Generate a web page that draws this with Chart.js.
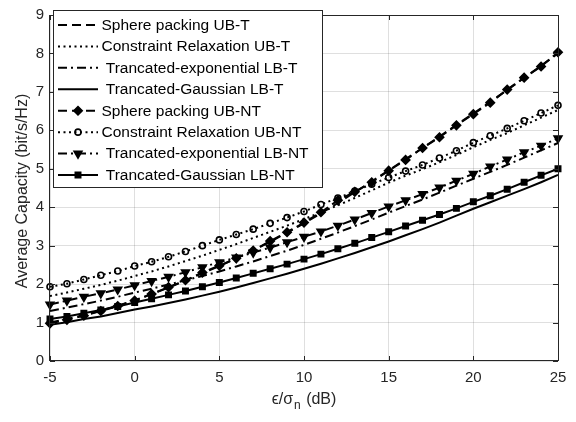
<!DOCTYPE html>
<html>
<head>
<meta charset="utf-8">
<script src="https://cdn.jsdelivr.net/npm/chart.js@4/dist/chart.umd.min.js"></script>
<style>
  html, body { margin: 0; padding: 0; background: #fff; }
  canvas { display: block; }
</style>
</head>
<body>
<canvas id="cap" width="576" height="422"></canvas>
<script>
// Normalised threshold epsilon/sigma_n in dB
const snrDb = [-5, -4, -3, -2, -1, 0, 1, 2, 3, 4, 5, 6, 7, 8, 9, 10,
               11, 12, 13, 14, 15, 16, 17, 18, 19, 20, 21, 22, 23, 24, 25];

// Average capacity (bit/s/Hz), "T" curves
const spherePackingT = [1.00, 1.09, 1.19, 1.31, 1.44, 1.58, 1.74, 1.91, 2.09, 2.28, 2.47,
  2.67, 2.88, 3.10, 3.34, 3.58, 3.84, 4.11, 4.39, 4.67, 4.96,
  5.25, 5.54, 5.84, 6.14, 6.44, 6.74, 7.05, 7.36, 7.68, 8.00];
const constraintRelaxT = [1.69, 1.78, 1.88, 1.98, 2.09, 2.21, 2.33, 2.46, 2.60, 2.74, 2.89,
  3.04, 3.20, 3.36, 3.52, 3.69, 3.87, 4.05, 4.24, 4.44, 4.64,
  4.82, 4.99, 5.17, 5.36, 5.56, 5.75, 5.93, 6.13, 6.33, 6.53];
const truncExpT = [1.30, 1.39, 1.48, 1.57, 1.67, 1.78, 1.88, 1.99, 2.10, 2.21, 2.33,
  2.46, 2.59, 2.73, 2.87, 3.02, 3.18, 3.34, 3.51, 3.68, 3.86,
  4.03, 4.20, 4.38, 4.56, 4.74, 4.92, 5.10, 5.29, 5.48, 5.67];
const truncGaussT = [0.94, 1.01, 1.09, 1.16, 1.25, 1.34, 1.42, 1.51, 1.60, 1.70, 1.80,
  1.91, 2.03, 2.15, 2.27, 2.40, 2.53, 2.67, 2.81, 2.96, 3.11,
  3.27, 3.43, 3.60, 3.78, 3.96, 4.13, 4.30, 4.47, 4.65, 4.84];

// Average capacity (bit/s/Hz), "NT" curves
const spherePackingNT = [0.98, 1.07, 1.18, 1.30, 1.43, 1.57, 1.74, 1.92, 2.10, 2.30, 2.48,
  2.67, 2.87, 3.12, 3.35, 3.60, 3.87, 4.18, 4.40, 4.65, 4.95,
  5.23, 5.54, 5.82, 6.13, 6.42, 6.72, 7.06, 7.37, 7.66, 8.03];
const constraintRelaxNT = [1.93, 2.01, 2.12, 2.23, 2.34, 2.47, 2.58, 2.71, 2.85, 3.00, 3.15,
  3.29, 3.43, 3.58, 3.73, 3.89, 4.07, 4.24, 4.42, 4.60, 4.77,
  4.94, 5.10, 5.28, 5.47, 5.68, 5.86, 6.05, 6.25, 6.45, 6.65];
const truncExpNT = [1.47, 1.57, 1.67, 1.76, 1.86, 1.97, 2.08, 2.19, 2.31, 2.44, 2.57,
  2.69, 2.82, 2.95, 3.09, 3.23, 3.37, 3.52, 3.68, 3.85, 4.02,
  4.18, 4.34, 4.51, 4.69, 4.87, 5.06, 5.24, 5.43, 5.60, 5.79];
const truncGaussNT = [1.09, 1.16, 1.24, 1.33, 1.42, 1.52, 1.62, 1.72, 1.82, 1.93, 2.04,
  2.16, 2.28, 2.40, 2.52, 2.65, 2.78, 2.92, 3.06, 3.21, 3.36,
  3.51, 3.66, 3.81, 3.97, 4.14, 4.30, 4.47, 4.65, 4.83, 5.00];

const xTicks = [-5, 0, 5, 10, 15, 20, 25];
const yTicks = [0, 1, 2, 3, 4, 5, 6, 7, 8, 9];

const seriesLabels = [
  'Sphere packing UB-T',
  'Constraint Relaxation UB-T',
  ' Trancated-exponential LB-T',
  ' Trancated-Gaussian LB-T',
  'Sphere packing UB-NT',
  'Constraint Relaxation UB-NT',
  ' Trancated-exponential LB-NT',
  ' Trancated-Gaussian LB-NT'
];
const seriesValues = [spherePackingT, constraintRelaxT, truncExpT, truncGaussT,
                      spherePackingNT, constraintRelaxNT, truncExpNT, truncGaussNT];

const INK = '#000000';
const AXIS = '#262626';
const GRID = 'rgba(38,38,38,0.15)';
const FONT = '"Liberation Sans", Arial, Helvetica, sans-serif';

const DASH = [9, 5];
const DOT = [2, 3.5];
const DASHDOT = [9, 4, 2, 4];
const SOLID = [];

const lineStyles = [DASH, DOT, DASHDOT, SOLID, DASH, DOT, DASHDOT, SOLID];
const markers = [
  null, null, null, null,
  { pointStyle: 'rectRot', radius: 4.2, rotation: 0, fill: INK },
  { pointStyle: 'circle', radius: 3.0, rotation: 0, fill: 'rgba(0,0,0,0)' },
  { pointStyle: 'triangle', radius: 4.5, rotation: 180, fill: INK },
  { pointStyle: 'rect', radius: 3.8, rotation: 0, fill: INK }
];

const datasets = seriesValues.map((vals, i) => {
  const m = markers[i];
  return {
    label: seriesLabels[i],
    data: snrDb.map((x, k) => ({ x: x, y: vals[k] })),
    borderColor: INK,
    borderWidth: 2,
    borderDash: lineStyles[i],
    fill: false,
    tension: 0,
    clip: false,
    pointStyle: m ? m.pointStyle : 'circle',
    pointRadius: m ? m.radius : 0,
    pointRotation: m ? m.rotation : 0,
    pointBackgroundColor: m ? m.fill : INK,
    pointBorderColor: INK,
    pointBorderWidth: 1.6,
    pointHoverRadius: m ? m.radius : 0
  };
});

// Box around the axes, inward tick marks, legend and axis titles
const decorations = {
  id: 'decorations',
  afterDatasetsDraw(chart) {
    const c = chart.ctx, a = chart.chartArea;
    const xs = chart.scales.x, ys = chart.scales.y;
    c.save();
    c.strokeStyle = AXIS;
    c.lineWidth = 1;
    c.setLineDash([]);
    c.strokeRect(Math.round(a.left) - 0.5, Math.round(a.top) + 0.5,
                 Math.round(a.right - a.left) + 1, Math.round(a.bottom - a.top) - 1);
    const tl = 5;
    c.beginPath();
    xTicks.forEach(v => {
      const px = Math.round(xs.getPixelForValue(v)) + 0.5;
      c.moveTo(px, a.bottom); c.lineTo(px, a.bottom - tl);
      c.moveTo(px, a.top); c.lineTo(px, a.top + tl);
    });
    yTicks.forEach(v => {
      const py = Math.round(ys.getPixelForValue(v)) + 0.5;
      c.moveTo(a.left, py); c.lineTo(a.left + tl, py);
      c.moveTo(a.right, py); c.lineTo(a.right - tl, py);
    });
    c.stroke();
    c.restore();
  },
  afterDraw(chart) {
    const c = chart.ctx, a = chart.chartArea;
    c.save();

    // legend
    const box = { left: 53.5, top: 10.5, right: 322.5, bottom: 187.5 };
    c.fillStyle = '#ffffff';
    c.fillRect(box.left, box.top, box.right - box.left, box.bottom - box.top);
    c.strokeStyle = AXIS;
    c.lineWidth = 1;
    c.setLineDash([]);
    c.strokeRect(box.left, box.top, box.right - box.left, box.bottom - box.top);

    const rowTop = 25, rowStep = 21.43;
    const x0 = 58, x1 = 98, textX = 101.5;
    c.font = '15.5px ' + FONT;
    c.textBaseline = 'middle';
    c.textAlign = 'left';
    chart.data.datasets.forEach((ds, i) => {
      const y = rowTop + i * rowStep;
      c.strokeStyle = INK;
      c.lineWidth = 2;
      c.setLineDash(ds.borderDash);
      c.beginPath();
      c.moveTo(x0, y); c.lineTo(x1, y);
      c.stroke();
      c.setLineDash([]);
      if (ds.pointRadius > 0) {
        c.fillStyle = ds.pointBackgroundColor;
        c.strokeStyle = INK;
        c.lineWidth = ds.pointBorderWidth;
        Chart.helpers.drawPoint(c, {
          pointStyle: ds.pointStyle, radius: ds.pointRadius,
          rotation: ds.pointRotation, borderWidth: ds.pointBorderWidth
        }, (x0 + x1) / 2, y);
      }
      c.fillStyle = INK;
      c.fillText(ds.label, textX, y + 0.5);
    });

    // axis titles
    c.fillStyle = AXIS;
    c.textBaseline = 'alphabetic';
    const cx = (a.left + a.right) / 2;
    const big = '16px ' + FONT, small = '12px ' + FONT;
    const part1 = '\u03F5/\u03C3', part2 = 'n', part3 = ' (dB)';
    c.font = big;
    const w1 = c.measureText(part1).width, w3 = c.measureText(part3).width;
    c.font = small;
    const w2 = c.measureText(part2).width;
    let tx = cx - (w1 + w2 + 2 + w3) / 2;
    const base = 404;
    c.font = big; c.fillText(part1, tx, base); tx += w1 + 1;
    c.font = small; c.fillText(part2, tx, base + 5); tx += w2 + 1;
    c.font = big; c.fillText(part3, tx, base);

    c.translate(27, (a.top + a.bottom) / 2 + 3);
    c.rotate(-Math.PI / 2);
    c.textAlign = 'center';
    c.font = big;
    c.fillText('Average Capacity (bit/s/Hz)', 0, 0);
    c.restore();
  }
};

new Chart(document.getElementById('cap'), {
  type: 'line',
  data: { datasets: datasets },
  options: {
    responsive: false,
    animation: false,
    devicePixelRatio: 1,
    layout: { padding: { left: 0, top: 7, right: 18, bottom: 0 } },
    plugins: { legend: { display: false }, tooltip: { enabled: false } },
    scales: {
      x: {
        type: 'linear',
        min: -5, max: 25,
        afterBuildTicks: s => { s.ticks = xTicks.map(v => ({ value: v })); },
        afterFit: s => { s.height = 61; },
        ticks: { color: AXIS, font: { family: FONT, size: 15 }, padding: 8, maxRotation: 0 },
        grid: { color: GRID, lineWidth: 1, drawTicks: false },
        border: { display: false }
      },
      y: {
        type: 'linear',
        min: 0, max: 9,
        afterBuildTicks: s => { s.ticks = yTicks.map(v => ({ value: v })); },
        afterFit: s => { s.width = 50; },
        ticks: { color: AXIS, font: { family: FONT, size: 15 }, padding: 6 },
        grid: { color: GRID, lineWidth: 1, drawTicks: false },
        border: { display: false }
      }
    }
  },
  plugins: [decorations]
});
</script>
</body>
</html>
